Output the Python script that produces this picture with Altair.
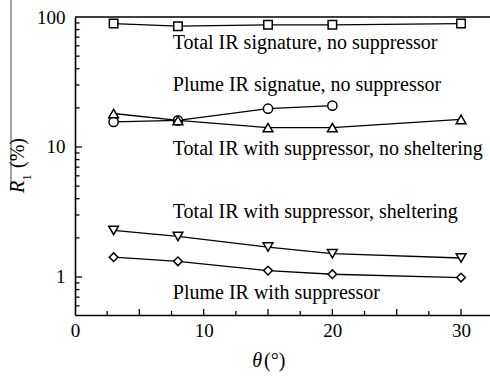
import altair as alt
import pandas as pd

# ---- data ----
theta = [3, 8, 15, 20, 30]
theta_plume = [3, 8, 15, 20]
total_no_supp = [89, 85, 87, 87, 89]
plume_no_supp = [15.6, 16.0, 19.7, 20.8]
total_supp_no_shelter = [18.1, 16.0, 14.1, 14.1, 16.3]
total_supp_shelter = [2.28, 2.05, 1.70, 1.51, 1.40]
plume_supp = [1.42, 1.32, 1.12, 1.05, 0.99]

series_shapes = ["square", "circle", "triangle-up", "triangle-down", "diamond"]
series_sizes = [72, 85, 95, 95, 75]

label_texts = ["Total IR signature, no suppressor",
               "Plume IR signatue, no suppressor",
               "Total IR with suppressor, no sheltering",
               "Total IR with suppressor, sheltering",
               "Plume IR with suppressor"]
label_x = [7.6, 7.6, 7.6, 7.6, 7.6]
label_y = [56.9, 27.2, 8.63, 2.84, 0.678]

x_label_values = [0, 10, 20, 30]
x_major_ticks = [5, 10, 15, 20, 25, 30]
x_minor_ticks = [2.5, 7.5, 12.5, 17.5, 22.5, 27.5]
y_label_values = [1, 10, 100]
y_major_ticks = [1, 10]
y_minor_ticks = [0.6, 0.7, 0.8, 0.9, 2, 3, 4, 5, 6, 7, 8, 9,
                 20, 30, 40, 50, 60, 70, 80, 90]

series = [
    (theta, total_no_supp),
    (theta_plume, plume_no_supp),
    (theta, total_supp_no_shelter),
    (theta, total_supp_shelter),
    (theta, plume_supp),
]

W, H = 415, 298
FONT = "Liberation Serif"
XD = [0, 32.25]
YD = [0.51, 100]


def xs():
    return alt.Scale(domain=XD, nice=False, zero=False)


def ys():
    return alt.Scale(type="log", domain=YD, nice=False)


layers = []

# axes carrier (labels + domain lines)
axis_df = pd.DataFrame({"xv": x_label_values, "yv": [1, 10, 100, 100]})
axes_layer = alt.Chart(axis_df).mark_point(opacity=0).encode(
    x=alt.X("xv:Q", scale=xs(), axis=alt.Axis(
        orient="bottom", values=x_label_values, ticks=False,
        labelPadding=6, labelFont=FONT, labelFontSize=19, labelColor="black",
        labelFlush=False, domainColor="black",
        domainWidth=1.6, grid=False, title=None)),
    y=alt.Y("yv:Q", scale=ys(), axis=alt.Axis(
        orient="left", values=y_label_values, ticks=False,
        labelPadding=10, labelFont=FONT, labelFontSize=19, labelColor="black",
        labelFlush=False, domainColor="black",
        domainWidth=1.6, grid=False, title=None)),
)
layers.append(axes_layer)

for (xv, yv), shp, sz in zip(series, series_shapes, series_sizes):
    d = pd.DataFrame({"theta": xv, "R": yv})
    base = alt.Chart(d)
    layers.append(base.mark_line(color="black", strokeWidth=1.3).encode(
        x=alt.X("theta:Q", scale=xs(), axis=None),
        y=alt.Y("R:Q", scale=ys(), axis=None)))
    layers.append(base.mark_point(shape=shp, size=sz, filled=True,
                                  fill="white", stroke="black",
                                  strokeWidth=1.5, opacity=1).encode(
        x=alt.X("theta:Q", scale=xs(), axis=None),
        y=alt.Y("R:Q", scale=ys(), axis=None)))

labels_df = pd.DataFrame({"label": label_texts, "lx": label_x, "ly": label_y})
layers.append(alt.Chart(labels_df).mark_text(
    font=FONT, fontSize=20, align="left", baseline="alphabetic", color="black"
).encode(
    x=alt.X("lx:Q", scale=xs(), axis=None),
    y=alt.Y("ly:Q", scale=ys(), axis=None),
    text="label:N",
))


def xtick_layer(vals, length):
    d = pd.DataFrame({"v": vals})
    return alt.Chart(d).mark_rule(color="black", strokeWidth=1.3).encode(
        x=alt.X("v:Q", scale=xs(), axis=None),
        y=alt.value(H), y2=alt.value(H - length))


def ytick_layer(vals, length):
    d = pd.DataFrame({"v": vals})
    return alt.Chart(d).mark_rule(color="black", strokeWidth=1.3).encode(
        y=alt.Y("v:Q", scale=ys(), axis=None),
        x=alt.value(0), x2=alt.value(length))


layers += [xtick_layer(x_major_ticks, 6), xtick_layer(x_minor_ticks, 4),
           ytick_layer(y_major_ticks, 7), ytick_layer(y_minor_ticks, 4.5)]

one = alt.Data(values=[{}])
layers.append(alt.Chart(one).mark_rule(color="black", strokeWidth=1.6).encode(
    x=alt.value(0), x2=alt.value(W), y=alt.value(0)))
layers.append(alt.Chart(one).mark_rule(color="#444444", strokeWidth=1).encode(
    x=alt.value(-64), y=alt.value(-17), y2=alt.value(173)))

layers.append(alt.Chart(one).mark_text(
    text="θ", font=FONT, fontSize=20, fontStyle="italic", align="right",
    baseline="alphabetic", color="black").encode(
    x=alt.value(187), y=alt.value(350)))
layers.append(alt.Chart(one).mark_text(
    text="(°)", font=FONT, fontSize=20, align="left", baseline="alphabetic",
    color="black").encode(x=alt.value(189), y=alt.value(350)))
layers.append(alt.Chart(one).mark_text(
    text="R", font=FONT, fontSize=20, fontStyle="italic", angle=270,
    align="center", baseline="alphabetic", color="black").encode(
    x=alt.value(-51), y=alt.value(170)))
layers.append(alt.Chart(one).mark_text(
    text="1", font=FONT, fontSize=12, angle=270, align="center",
    baseline="alphabetic", color="black").encode(
    x=alt.value(-44), y=alt.value(160.5)))
layers.append(alt.Chart(one).mark_text(
    text="(%)", font=FONT, fontSize=20, angle=270, align="center",
    baseline="alphabetic", color="black").encode(
    x=alt.value(-51), y=alt.value(136)))

chart = alt.layer(*layers).resolve_scale(
    x="independent", y="independent"
).properties(
    width=W, height=H,
    autosize=alt.AutoSizeParams(type="none"),
    padding={"left": 75, "top": 17, "right": 0, "bottom": 63},
    view=alt.ViewBackground(strokeWidth=0),
)

chart.save("out.html", embed_options={"renderer": "svg", "actions": False})
